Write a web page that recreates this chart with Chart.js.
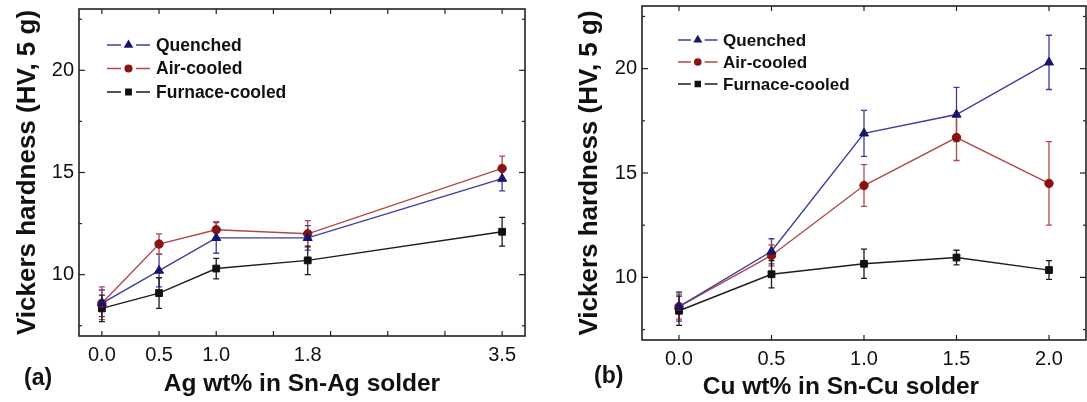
<!DOCTYPE html>
<html>
<head>
<meta charset="utf-8">
<script src="https://cdn.jsdelivr.net/npm/chart.js@4.4.1/dist/chart.umd.min.js"></script>
<style>
  html, body { margin: 0; padding: 0; background: #fff; }
  body { width: 1087px; height: 402px; position: relative; overflow: hidden;
         font-family: Arial, 'Liberation Sans', sans-serif; color: #111; }
  canvas { position: absolute; top: 0; }
  #chartA { left: 0; }
  #chartB { left: 543px; }
  .tag { position: absolute; font-weight: bold; font-size: 23px; line-height: 26px; white-space: nowrap; }
</style>
</head>
<body>
<canvas id="chartA" width="543" height="402"></canvas>
<canvas id="chartB" width="544" height="402"></canvas>
<div class="tag" style="left:24px; top:364px;">(a)</div>
<div class="tag" style="left:594px; top:362px;">(b)</div>
<div class="tag" style="left:691px; top:373px; width:300px; text-align:center; font-size:24.5px;">Cu wt% in Sn-Cu solder</div>

<script>
// --- data: (a) Sn-Ag solder ---
const agX = [0, 0.5, 1.0, 1.8, 3.5];
const agLabels = ['0.0', '0.5', '1.0', '1.8', '3.5'];
const agQuenched = [8.6, 10.2, 11.8, 11.8, 14.7];
const agQuenchedErr = [0.65, 0.8, 0.75, 0.6, 0.6];
const agAirCooled = [8.6, 11.5, 12.2, 12.0, 15.2];
const agAirCooledErr = [0.8, 0.5, 0.4, 0.65, 0.6];
const agFurnace = [8.35, 9.1, 10.3, 10.7, 12.1];
const agFurnaceErr = [0.65, 0.75, 0.5, 0.7, 0.7];

// --- data: (b) Sn-Cu solder ---
const cuX = [0, 0.5, 1.0, 1.5, 2.0];
const cuLabels = ['0.0', '0.5', '1.0', '1.5', '2.0'];
const cuQuenched = [8.6, 11.25, 16.9, 17.8, 20.3];
const cuQuenchedErr = [0.7, 0.6, 1.1, 1.3, 1.3];
const cuAirCooled = [8.6, 11.05, 14.4, 16.7, 14.5];
const cuAirCooledErr = [0.6, 0.5, 1.0, 1.1, 2.0];
const cuFurnace = [8.4, 10.15, 10.65, 10.95, 10.35];
const cuFurnaceErr = [0.7, 0.65, 0.7, 0.35, 0.45];

const seriesNames = ['Quenched', 'Air-cooled', 'Furnace-cooled'];
const yMajor = [10, 15, 20];
const yMinor = [7.5, 12.5, 17.5, 22.5];
const agTickMarks = [0, 0.5, 1, 1.5, 2, 2.5, 3, 3.5];
const cuTickMarks = [0, 0.5, 1, 1.5, 2];

const FONT = "Arial, 'Liberation Sans', sans-serif";
const styles = [
  { line: '#3c3ca0', mark: '#16166e', shape: 'triangle', r: 5.2 },
  { line: '#b24848', mark: '#8a1212', shape: 'circle', r: 4.2 },
  { line: '#1c1c1c', mark: '#111111', shape: 'rect', r: 4.8 }
];

// frame round the plot plus inward tick marks on all four sides
const frameTicks = {
  id: 'frameTicks',
  afterDraw(chart, args, o) {
    const { ctx, chartArea: a, scales: { x, y } } = chart;
    const seg = (x1, y1, x2, y2) => { ctx.beginPath(); ctx.moveTo(x1, y1); ctx.lineTo(x2, y2); ctx.stroke(); };
    ctx.save();
    ctx.strokeStyle = '#222';
    ctx.lineWidth = 1.6;
    ctx.strokeRect(a.left, a.top, a.right - a.left, a.bottom - a.top);
    ctx.lineWidth = 1.2;
    o.xMarks.forEach(v => {
      const px = x.getPixelForValue(v);
      seg(px, a.bottom, px, a.bottom - 5);
      seg(px, a.top, px, a.top + 5);
    });
    yMajor.forEach(v => {
      const py = y.getPixelForValue(v);
      seg(a.left, py, a.left + 6, py);
      seg(a.right, py, a.right - 6, py);
    });
    yMinor.forEach(v => {
      const py = y.getPixelForValue(v);
      seg(a.left, py, a.left + 3, py);
      seg(a.right, py, a.right - 3, py);
    });
    ctx.restore();
  }
};

// vertical error bars, drawn under the markers
const errorBars = {
  id: 'errorBars',
  beforeDatasetsDraw(chart) {
    const { ctx, scales: { x, y } } = chart;
    ctx.save();
    chart.data.datasets.forEach((ds, i) => {
      if (!chart.isDatasetVisible(i)) return;
      ctx.strokeStyle = ds.borderColor;
      ctx.lineWidth = 1.3;
      ds.data.forEach((p, j) => {
        const e = ds.errors[j];
        const px = x.getPixelForValue(p.x);
        const top = y.getPixelForValue(p.y + e);
        const bot = y.getPixelForValue(p.y - e);
        ctx.beginPath();
        ctx.moveTo(px, top); ctx.lineTo(px, bot);
        ctx.moveTo(px - 3, top); ctx.lineTo(px + 3, top);
        ctx.moveTo(px - 3, bot); ctx.lineTo(px + 3, bot);
        ctx.stroke();
      });
    });
    ctx.restore();
  }
};

// Origin style key: line - symbol - line, then the name
const seriesKey = {
  id: 'seriesKey',
  afterDraw(chart, args, o) {
    const { ctx, chartArea: a } = chart;
    const s = o.scale;
    ctx.save();
    chart.data.datasets.forEach((ds, i) => {
      const x0 = a.left + o.left;
      const y0 = a.top + o.top + i * o.gap;
      ctx.strokeStyle = ds.borderColor;
      ctx.lineWidth = 1.4;
      ctx.beginPath();
      ctx.moveTo(x0, y0); ctx.lineTo(x0 + 14 * s, y0);
      ctx.moveTo(x0 + 29 * s, y0); ctx.lineTo(x0 + 43 * s, y0);
      ctx.stroke();
      ctx.fillStyle = ds.pointBackgroundColor;
      ctx.strokeStyle = ds.pointBorderColor;
      Chart.helpers.drawPoint(ctx, { pointStyle: ds.pointStyle, radius: ds.pointRadius * 0.8 * s, rotation: 0, borderWidth: 1 }, x0 + 21.5 * s, y0);
      ctx.fillStyle = '#111';
      ctx.font = 'bold ' + o.size + 'px ' + FONT;
      ctx.textBaseline = 'middle';
      ctx.fillText(ds.label, x0 + 49 * s, y0 + 1);
    });
    ctx.restore();
  }
};

// keep the plot box where the layout puts it (no extra room for tick labels)
function noPad(s) {
  s.paddingTop = 0; s.paddingBottom = 0; s.paddingLeft = 0; s.paddingRight = 0;
}

function makeDatasets(xs, values, errs) {
  return values.map((vals, i) => ({
    label: seriesNames[i],
    data: xs.map((x, j) => ({ x: x, y: vals[j] })),
    errors: errs[i],
    borderColor: styles[i].line,
    borderWidth: 1.4,
    pointStyle: styles[i].shape,
    pointRadius: styles[i].r,
    pointBackgroundColor: styles[i].mark,
    pointBorderColor: styles[i].mark,
    pointBorderWidth: 1,
    tension: 0
  }));
}

function makePanel(canvasId, p) {
  const tickVals = Array.from(new Set(p.xMarks.concat(p.xs))).sort((a, b) => a - b);
  return new Chart(document.getElementById(canvasId), {
    type: 'line',
    data: { datasets: makeDatasets(p.xs, p.values, p.errs) },
    options: {
      responsive: false,
      animation: false,
      events: [],
      layout: { padding: p.padding, autoPadding: false },
      plugins: {
        legend: { display: false },
        tooltip: { enabled: false },
        frameTicks: { xMarks: p.xMarks },
        seriesKey: p.key
      },
      scales: {
        x: {
          type: 'linear',
          min: p.xMin,
          max: p.xMax,
          afterBuildTicks: s => { s.ticks = tickVals.map(v => ({ value: v })); },
          afterFit: s => { s.height = p.xHeight; noPad(s); },
          grid: { display: false, drawTicks: false },
          border: { display: false },
          ticks: {
            autoSkip: false,
            maxRotation: 0,
            padding: 7,
            color: '#111',
            font: { family: FONT, size: 20 },
            callback: v => { const i = p.xs.indexOf(v); return i >= 0 ? p.labels[i] : ''; }
          },
          title: {
            display: p.xTitle !== '',
            text: p.xTitle,
            color: '#111',
            font: { family: FONT, size: 24.5, weight: 'bold' },
            padding: { top: 0, bottom: 3 }
          }
        },
        y: {
          min: 7,
          max: 23,
          afterBuildTicks: s => { s.ticks = yMajor.map(v => ({ value: v })); },
          afterFit: s => { s.width = p.yWidth; noPad(s); },
          grid: { display: false, drawTicks: false },
          border: { display: false },
          ticks: {
            padding: 5,
            color: '#111',
            font: { family: FONT, size: 20 }
          },
          title: {
            display: true,
            text: 'Vickers hardness (HV, 5 g)',
            color: '#111',
            font: { family: FONT, size: 26, weight: 'bold' },
            padding: { top: p.yTitlePad, bottom: 0 }
          }
        }
      }
    },
    plugins: [frameTicks, errorBars, seriesKey]
  });
}

makePanel('chartA', {
  xs: agX, labels: agLabels, xMarks: agTickMarks,
  values: [agQuenched, agAirCooled, agFurnace],
  errs: [agQuenchedErr, agAirCooledErr, agFurnaceErr],
  xMin: -0.2, xMax: 3.7,
  padding: { top: 9, right: 18, left: 0, bottom: 0 },
  xHeight: 66, yWidth: 79, yTitlePad: 12,
  xTitle: 'Ag wt% in Sn-Ag solder',
  key: { left: 28, top: 36, gap: 23.5, size: 17.5, scale: 1 }
});

makePanel('chartB', {
  xs: cuX, labels: cuLabels, xMarks: cuTickMarks,
  values: [cuQuenched, cuAirCooled, cuFurnace],
  errs: [cuQuenchedErr, cuAirCooledErr, cuFurnaceErr],
  xMin: -0.2, xMax: 2.2,
  padding: { top: 6, right: 1, left: 0, bottom: 0 },
  xHeight: 62, yWidth: 99, yTitlePad: 31,
  xTitle: '',
  key: { left: 36, top: 34, gap: 22, size: 17, scale: 0.92 }
});
</script>
</body>
</html>
